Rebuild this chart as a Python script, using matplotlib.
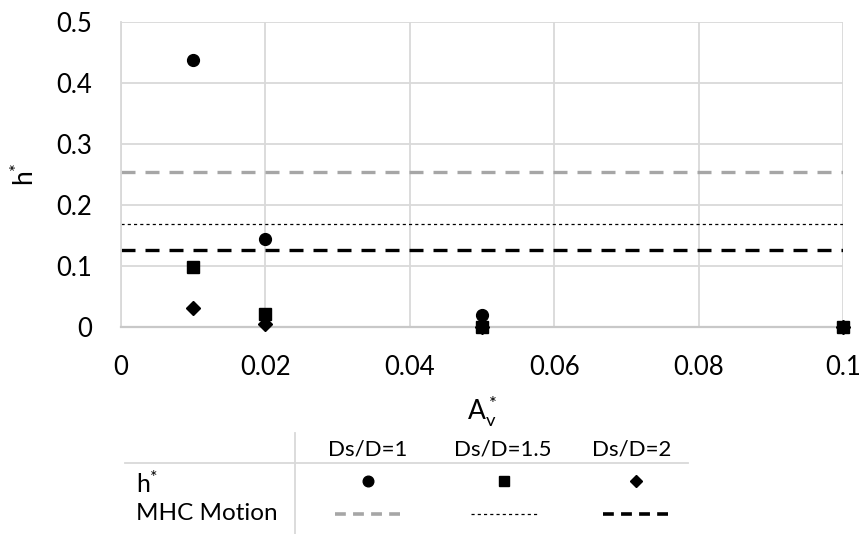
import matplotlib
matplotlib.use("Agg")
import matplotlib.pyplot as plt
from matplotlib.lines import Line2D

plt.rcParams['font.family'] = ['Lato', 'DejaVu Sans']

# Dimensionless amplitude and measured h* for each spacing ratio
av = [0.01, 0.02, 0.05, 0.1]
h_ds1 = [0.438, 0.144, 0.020, 0.0]
h_ds15 = [0.098, 0.022, 0.0, 0.0]
h_ds2 = [0.031, 0.005, 0.0, 0.0]

# MHC motion reference levels (Ds/D = 1, 1.5, 2)
mhc_levels = [0.254, 0.169, 0.127]

series_labels = ["Ds/D=1", "Ds/D=1.5", "Ds/D=2"]
x_ticks = [0, 0.02, 0.04, 0.06, 0.08, 0.1]
y_ticks = [0, 0.1, 0.2, 0.3, 0.4, 0.5]

H_STAR = r"$\mathregular{h\!^*}$"

W, H = 863, 534
fig = plt.figure(figsize=(W / 100, H / 100), dpi=100)
ax = fig.add_axes([121 / W, 1 - 327 / H, 722 / W, 305 / H])

grid_c = "#d9d9d9"
ax.set_xlim(0, 0.1)
ax.set_ylim(0, 0.5)
ax.set_xticks(x_ticks)
ax.set_yticks(y_ticks)
ax.set_xticklabels(["0", "0.02", "0.04", "0.06", "0.08", "0.1"])
ax.set_yticklabels(["0", "0.1", "0.2", "0.3", "0.4", "0.5"])
ax.grid(True, color=grid_c, lw=1.3)
ax.set_axisbelow(True)
for s in ax.spines.values():
    s.set_visible(False)
ax.spines['left'].set_visible(True)
ax.spines['left'].set_color(grid_c)
ax.spines['left'].set_linewidth(1.3)
ax.spines['bottom'].set_visible(True)
ax.spines['bottom'].set_color("#c8c8c8")
ax.spines['bottom'].set_linewidth(1.6)
ax.tick_params(length=0, labelsize=18.5, colors="black")
ax.tick_params(axis='y', pad=21)
ax.tick_params(axis='x', pad=20)

line_styles = [
    dict(color="#a6a6a6", lw=2.4, dashes=(4.2, 3.0)),
    dict(color="black", lw=0.9, dashes=(2.5, 2.5)),
    dict(color="black", lw=2.4, dashes=(4.2, 3.0)),
]
for lvl, st in zip(mhc_levels, line_styles):
    ax.axhline(lvl, **st)

markers = [("o", 8.5), ("s", 8), ("D", 7)]
for ys, (m, ms) in zip([h_ds1, h_ds15, h_ds2], markers):
    ax.plot(av, ys, ls="none", marker=m, ms=ms, color="black", clip_on=False, zorder=5)

ax.set_xlabel(r"$\mathregular{A_v^*}$", fontsize=19, labelpad=10)
ax.set_ylabel(H_STAR, fontsize=19, labelpad=12)

# Data-table style legend below the axes, drawn in pixel coordinates
lg = fig.add_axes([0, 0, 1, 1], facecolor="none")
lg.set_xlim(0, W)
lg.set_ylim(H, 0)
lg.axis("off")
lg.add_line(Line2D([295, 295], [433, 534], color=grid_c, lw=1.3))
lg.add_line(Line2D([125, 688], [463, 463], color=grid_c, lw=1.3))

col_x = [368, 503, 632]
for cx, lab in zip(col_x, series_labels):
    lg.text(cx, 449, lab, ha="center", va="center", fontsize=16)

lg.text(136, 484, H_STAR, ha="left", va="center", fontsize=18)
lg.text(136, 514, "MHC Motion", ha="left", va="center", fontsize=17.5)

leg_pos = [368, 504, 636]
for cx, (m, ms) in zip(leg_pos, markers):
    lg.plot([cx], [481], ls="none", marker=m, ms=ms * 0.9, color="black")

leg_styles = [
    dict(color="#a6a6a6", lw=2.6, dashes=(3.0, 2.0)),
    dict(color="black", lw=0.9, dashes=(2.5, 2.5)),
    dict(color="black", lw=2.6, dashes=(3.0, 2.0)),
]
for cx, st in zip(leg_pos, leg_styles):
    lg.add_line(Line2D([cx - 33, cx + 33], [514, 514], **st))

fig.savefig("out.png", dpi=100)
